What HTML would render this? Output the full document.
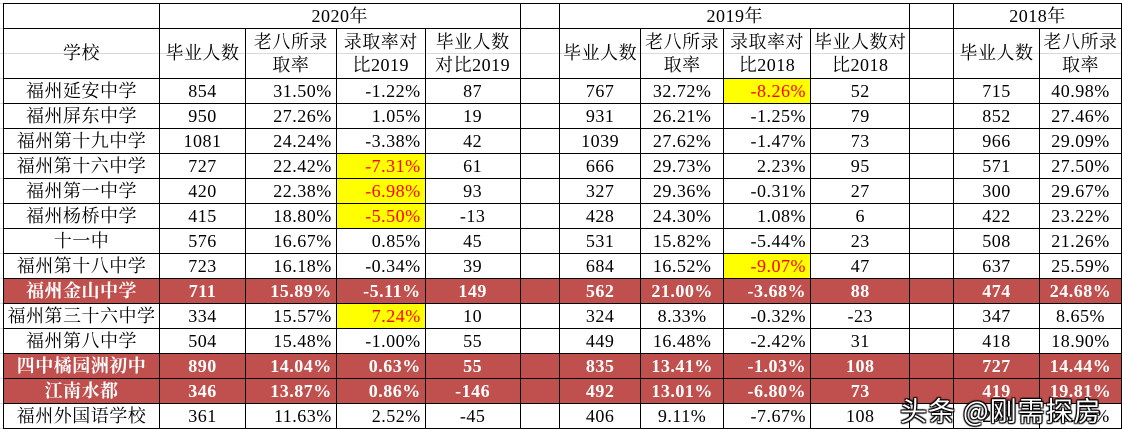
<!DOCTYPE html>
<html><head><meta charset="utf-8"><style>
html,body{margin:0;padding:0;background:#fff;width:1122px;height:439px;overflow:hidden;position:relative}
.grid{position:absolute;left:0;top:0;width:1122px;height:439px;
background-image:linear-gradient(#d9d9d9 1px,transparent 1px);background-size:100% 25px;background-position:0 3px}
table{position:absolute;left:3px;top:3px;border-collapse:collapse;table-layout:fixed;
font-family:"Liberation Serif","Noto Serif CJK SC",serif;font-size:18px;color:#000}
td{border:1px solid #000;padding:0 3px;height:24px;text-align:center;white-space:nowrap;overflow:hidden;line-height:22px;letter-spacing:0.5px}
tr.h1 td{height:24px}
tr.h2 td{height:49px;line-height:23px}
td.r{text-align:right;padding-right:4px}
tr.red td{background:#c0504d;color:#fff;font-weight:bold}
td.y{background:#ffff00;color:#ff0000}
.wm{position:absolute;left:900px;top:390px;font-family:"Noto Sans CJK SC",sans-serif;font-size:27px;color:#fff;
text-shadow:0 0 2px #000,1px 1px 1px #000,-1px -1px 1px #000,1px -1px 1px #000,-1px 1px 1px #000;letter-spacing:1px}
</style></head><body>
<div class="grid"></div>
<table>
<colgroup><col style="width:156px"><col style="width:86px"><col style="width:91px"><col style="width:89px"><col style="width:95px"><col style="width:40px"><col style="width:81px"><col style="width:83px"><col style="width:87px"><col style="width:98px"><col style="width:44px"><col style="width:86px"><col style="width:82px"></colgroup>
<tr class="h1"><td></td><td colspan="4">2020年</td><td></td><td colspan="4">2019年</td><td></td><td colspan="2">2018年</td></tr>
<tr class="h2"><td>学校</td><td>毕业人数</td><td>老八所录<br>取率</td><td>录取率对<br>比2019</td><td>毕业人数<br>对比2019</td><td></td><td>毕业人数</td><td>老八所录<br>取率</td><td>录取率对<br>比2018</td><td>毕业人数对<br>比2018</td><td></td><td>毕业人数</td><td>老八所录<br>取率</td></tr>
<tr><td>福州延安中学</td><td>854</td><td class="r">31.50%</td><td class="r">-1.22%</td><td>87</td><td></td><td>767</td><td>32.72%</td><td class="r y">-8.26%</td><td>52</td><td></td><td>715</td><td>40.98%</td></tr>
<tr><td>福州屏东中学</td><td>950</td><td class="r">27.26%</td><td class="r">1.05%</td><td>19</td><td></td><td>931</td><td>26.21%</td><td class="r">-1.25%</td><td>79</td><td></td><td>852</td><td>27.46%</td></tr>
<tr><td>福州第十九中学</td><td>1081</td><td class="r">24.24%</td><td class="r">-3.38%</td><td>42</td><td></td><td>1039</td><td>27.62%</td><td class="r">-1.47%</td><td>73</td><td></td><td>966</td><td>29.09%</td></tr>
<tr><td>福州第十六中学</td><td>727</td><td class="r">22.42%</td><td class="r y">-7.31%</td><td>61</td><td></td><td>666</td><td>29.73%</td><td class="r">2.23%</td><td>95</td><td></td><td>571</td><td>27.50%</td></tr>
<tr><td>福州第一中学</td><td>420</td><td class="r">22.38%</td><td class="r y">-6.98%</td><td>93</td><td></td><td>327</td><td>29.36%</td><td class="r">-0.31%</td><td>27</td><td></td><td>300</td><td>29.67%</td></tr>
<tr><td>福州杨桥中学</td><td>415</td><td class="r">18.80%</td><td class="r y">-5.50%</td><td>-13</td><td></td><td>428</td><td>24.30%</td><td class="r">1.08%</td><td>6</td><td></td><td>422</td><td>23.22%</td></tr>
<tr><td>十一中</td><td>576</td><td class="r">16.67%</td><td class="r">0.85%</td><td>45</td><td></td><td>531</td><td>15.82%</td><td class="r">-5.44%</td><td>23</td><td></td><td>508</td><td>21.26%</td></tr>
<tr><td>福州第十八中学</td><td>723</td><td class="r">16.18%</td><td class="r">-0.34%</td><td>39</td><td></td><td>684</td><td>16.52%</td><td class="r y">-9.07%</td><td>47</td><td></td><td>637</td><td>25.59%</td></tr>
<tr class="red"><td>福州金山中学</td><td>711</td><td class="r">15.89%</td><td class="r">-5.11%</td><td>149</td><td></td><td>562</td><td>21.00%</td><td class="r">-3.68%</td><td>88</td><td></td><td>474</td><td>24.68%</td></tr>
<tr><td>福州第三十六中学</td><td>334</td><td class="r">15.57%</td><td class="r y">7.24%</td><td>10</td><td></td><td>324</td><td>8.33%</td><td class="r">-0.32%</td><td>-23</td><td></td><td>347</td><td>8.65%</td></tr>
<tr><td>福州第八中学</td><td>504</td><td class="r">15.48%</td><td class="r">-1.00%</td><td>55</td><td></td><td>449</td><td>16.48%</td><td class="r">-2.42%</td><td>31</td><td></td><td>418</td><td>18.90%</td></tr>
<tr class="red"><td>四中橘园洲初中</td><td>890</td><td class="r">14.04%</td><td class="r">0.63%</td><td>55</td><td></td><td>835</td><td>13.41%</td><td class="r">-1.03%</td><td>108</td><td></td><td>727</td><td>14.44%</td></tr>
<tr class="red"><td>江南水都</td><td>346</td><td class="r">13.87%</td><td class="r">0.86%</td><td>-146</td><td></td><td>492</td><td>13.01%</td><td class="r">-6.80%</td><td>73</td><td></td><td>419</td><td>19.81%</td></tr>
<tr><td>福州外国语学校</td><td>361</td><td class="r">11.63%</td><td class="r">2.52%</td><td>-45</td><td></td><td>406</td><td>9.11%</td><td class="r">-7.67%</td><td>108</td><td></td><td>298</td><td>16.78%</td></tr>
</table>
<div class="wm">头条 @刚需探房</div>
</body></html>
